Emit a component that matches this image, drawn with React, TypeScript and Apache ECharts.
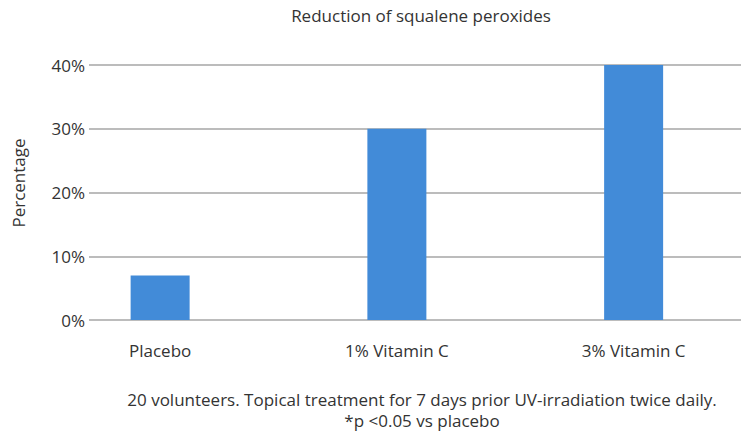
import React, { useEffect, useRef } from "react";
import * as echarts from "echarts";

const categories = ["Placebo", "1% Vitamin C", "3% Vitamin C"];
const reduction = [7, 30, 40];
const yTicks = [0, 10, 20, 30, 40];
const titleText = "Reduction of squalene peroxides";
const yAxisTitle = "Percentage";
const footnote = "20 volunteers. Topical treatment for 7 days prior UV-irradiation twice daily.\n*p <0.05 vs placebo";

const FONT = "'Open Sans', 'Noto Sans', sans-serif";
const TEXT = "#333333";
const FS = 17;

export default function App() {
  const ref = useRef<HTMLDivElement>(null);
  useEffect(() => {
    if (!ref.current) return;
    const chart = echarts.init(ref.current, null, { renderer: "svg" });
    chart.setOption({
      animation: false,
      backgroundColor: "#ffffff",
      textStyle: { fontFamily: FONT },
      title: [
        {
          text: titleText,
          left: 416,
          top: 2,
          textAlign: "center",
          textStyle: { fontSize: FS, fontWeight: "normal", color: TEXT, fontFamily: FONT },
        },
        {
          text: footnote,
          left: 417,
          top: 384,
          textAlign: "center",
          textStyle: { fontSize: FS, fontWeight: "normal", color: TEXT, fontFamily: FONT, lineHeight: 21 },
        },
      ],
      graphic: [
        {
          type: "text",
          x: 18,
          y: 183,
          rotation: Math.PI / 2,
          style: {
            text: yAxisTitle,
            fill: TEXT,
            font: `${FS}px ${FONT}`,
            align: "center",
            verticalAlign: "middle",
          },
        },
      ],
      grid: [
        { left: 89, right: 11, top: 65, bottom: 114 },
        { left: 41.75, width: 718.5, top: 65, bottom: 114 },
      ],
      xAxis: [
        { type: "category", gridIndex: 0, data: categories, show: false },
        {
          type: "category",
          gridIndex: 1,
          data: categories,
          axisLine: { show: false },
          axisTick: { show: false },
          axisLabel: { margin: 22, fontSize: FS, color: TEXT, fontFamily: FONT },
        },
      ],
      yAxis: [
        {
          type: "value",
          gridIndex: 0,
          min: yTicks[0],
          max: yTicks[yTicks.length - 1],
          interval: 10,
          axisLine: { show: false },
          axisTick: { show: false },
          axisLabel: {
            formatter: "{value}%",
            margin: 4,
            fontSize: FS,
            color: TEXT,
            fontFamily: FONT,
            padding: [0, 0, 11, 0],
          },
          splitLine: { lineStyle: { color: "#a6a6a6", width: 1.5 } },
        },
        {
          type: "value",
          gridIndex: 1,
          min: yTicks[0],
          max: yTicks[yTicks.length - 1],
          interval: 10,
          show: false,
          splitLine: { show: false },
        },
      ],
      series: [
        {
          type: "bar",
          xAxisIndex: 1,
          yAxisIndex: 1,
          data: reduction,
          barWidth: 59,
          itemStyle: { color: "#428bd8" },
        },
      ],
    });
    return () => chart.dispose();
  }, []);
  return <div ref={ref} style={{ width: 752, height: 434, position: "absolute", left: 0, top: 0 }} />;
}
